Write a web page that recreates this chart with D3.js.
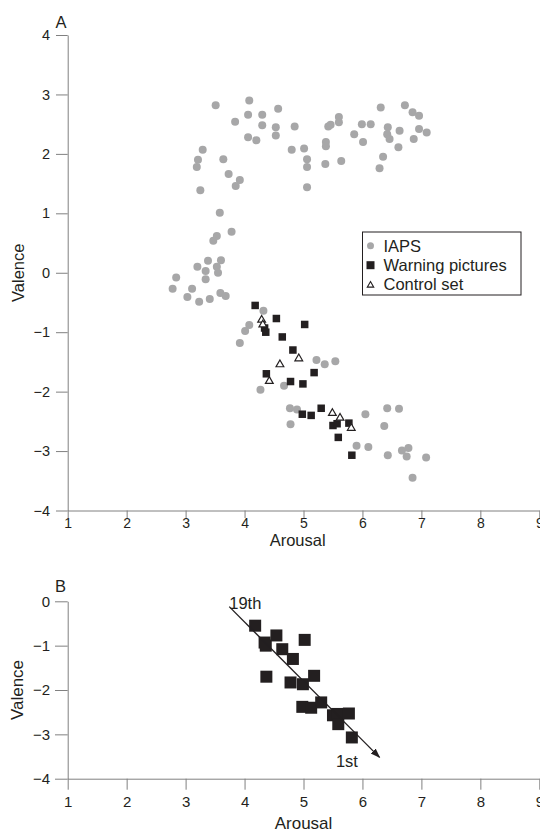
<!DOCTYPE html>
<html>
<head>
<meta charset="utf-8">
<script src="https://cdn.jsdelivr.net/npm/d3@7"></script>
<style>
  html, body { margin: 0; padding: 0; background: #fff; }
  svg { display: block; font-family: "Liberation Sans", Arial, sans-serif; }
</style>
</head>
<body>
<svg id="chart" width="540" height="832"></svg>
<script>
// Axis ticks
const arousalTicks = [1, 2, 3, 4, 5, 6, 7, 8, 9];
const valenceTicksA = [-4, -3, -2, -1, 0, 1, 2, 3, 4];
const valenceTicksB = [-4, -3, -2, -1, 0];

// IAPS normative ratings [arousal, valence]
const iaps = [
  [3.51, 2.82], [4.08, 2.90], [3.84, 2.54], [4.06, 2.66], [4.30, 2.66], [4.57, 2.76],
  [4.30, 2.48], [4.53, 2.45], [4.85, 2.46], [4.06, 2.28], [4.20, 2.23], [4.53, 2.31],
  [5.60, 2.62], [5.60, 2.53], [5.42, 2.46], [5.46, 2.49], [5.86, 2.33], [3.29, 2.07],
  [3.21, 1.90], [3.19, 1.78], [3.64, 1.91], [3.73, 1.66], [3.92, 1.56], [3.85, 1.46],
  [3.25, 1.39], [4.80, 2.07], [5.01, 2.09], [5.06, 1.91], [5.06, 1.78], [5.06, 1.44],
  [5.38, 2.20], [5.38, 2.13], [5.37, 1.83], [5.64, 1.88],
  [6.31, 2.78], [6.72, 2.82], [6.85, 2.70], [6.96, 2.64], [5.99, 2.50], [6.14, 2.50],
  [6.43, 2.45], [6.63, 2.39], [6.96, 2.42], [7.09, 2.36], [6.01, 2.20], [6.42, 2.33],
  [6.46, 2.25], [6.87, 2.25], [6.61, 2.11], [6.35, 1.95], [6.29, 1.76],
  [3.58, 1.01], [3.78, 0.69], [3.53, 0.62], [3.47, 0.54], [3.20, 0.10], [3.38, 0.20],
  [3.60, 0.21], [3.53, 0.10], [3.34, 0.03], [3.55, 0.00], [3.34, -0.11], [2.84, -0.08],
  [2.78, -0.27], [3.11, -0.27], [3.03, -0.41], [3.23, -0.49], [3.41, -0.44], [3.59, -0.34],
  [3.68, -0.39],
  [4.32, -0.64], [4.08, -0.88], [4.01, -0.98], [3.92, -1.18], [5.22, -1.47], [5.36, -1.54],
  [5.54, -1.49], [4.27, -1.97], [4.67, -1.90], [4.77, -2.28], [4.89, -2.30], [4.78, -2.55],
  [6.05, -2.38], [6.42, -2.28], [6.62, -2.29], [6.37, -2.58], [5.90, -2.91], [6.10, -2.93],
  [6.43, -3.07], [6.67, -2.99], [6.78, -2.95], [6.75, -3.09], [7.08, -3.11], [6.85, -3.45]
];

// Warning pictures [arousal, valence]
const warning = [
  [4.18, -0.55], [4.34, -0.93], [4.36, -1.00], [4.54, -0.77], [4.64, -1.08], [4.82, -1.30],
  [4.37, -1.70], [4.78, -1.83], [5.02, -0.87], [5.18, -1.68], [4.99, -1.87], [4.98, -2.38],
  [5.13, -2.40], [5.30, -2.28], [5.50, -2.57], [5.57, -2.54], [5.59, -2.77], [5.77, -2.53],
  [5.82, -3.07]
];

// Control set [arousal, valence]
const control = [
  [4.29, -0.78], [4.31, -0.86], [4.42, -1.81], [4.60, -1.53], [4.92, -1.43],
  [5.49, -2.35], [5.62, -2.43], [5.81, -2.60]
];

// Rank-order arrow for panel B, from the 19th to the 1st picture
const rankArrowFrom = [3.74, -0.12];
const rankArrowTo = [6.29, -3.52];
const rankLabels = [
  { text: "19th", at: [3.74, -0.12] },
  { text: "1st", at: [5.55, -3.68] }
];

const legendItems = ["IAPS", "Warning pictures", "Control set"];

const GREY = "#a7a7a8";
const INK = "#231f20";
const AXIS = "#808080";
const intFmt = d3.format("d");

const svg = d3.select("#chart");

svg.append("defs").append("marker")
  .attr("id", "arrowhead")
  .attr("viewBox", "0 0 10 10")
  .attr("refX", 9).attr("refY", 5)
  .attr("markerWidth", 10).attr("markerHeight", 10)
  .attr("markerUnits", "userSpaceOnUse")
  .attr("orient", "auto")
  .append("path")
  .attr("d", "M0,1.5 L10,5 L0,8.5 Z")
  .attr("fill", INK);

function styleAxis(g, size) {
  g.selectAll(".domain").attr("stroke", AXIS).attr("stroke-width", 1);
  g.selectAll(".tick line").attr("stroke", AXIS).attr("stroke-width", 1);
  g.selectAll(".tick text").attr("fill", INK)
    .attr("font-size", size)
    .attr("font-family", "Liberation Sans, Arial, sans-serif");
}

// ---------- Panel A ----------
const xA = d3.scaleLinear().domain([1, 9]).range([67.7, 539.3]);
const yA = d3.scaleLinear().domain([-4, 4]).range([510.5, 35]);

const gA = svg.append("g");

gA.append("g")
  .attr("transform", `translate(0,${yA(-4)})`)
  .call(d3.axisBottom(xA).tickValues(arousalTicks).tickFormat(intFmt)
    .tickSize(7.5).tickPadding(0).tickSizeOuter(0))
  .call(styleAxis, 14);

gA.append("g")
  .attr("transform", `translate(${xA(1)},0)`)
  .call(d3.axisLeft(yA).tickValues(valenceTicksA).tickFormat(intFmt)
    .tickSize(11.7).tickPadding(6).tickSizeOuter(0))
  .call(styleAxis, 14.5);

gA.append("text").text("A")
  .attr("x", 61).attr("y", 28).attr("text-anchor", "middle")
  .attr("font-size", 16.5).attr("fill", INK);

gA.append("text").text("Arousal")
  .attr("x", xA(4.9)).attr("y", 546).attr("text-anchor", "middle")
  .attr("font-size", 16.5).attr("fill", INK);

gA.append("text").text("Valence")
  .attr("transform", `translate(24,${yA(0)}) rotate(-90)`)
  .attr("text-anchor", "middle")
  .attr("font-size", 16.5).attr("fill", INK);

// IAPS points
gA.append("g").selectAll("circle").data(iaps).join("circle")
  .attr("cx", d => xA(d[0])).attr("cy", d => yA(d[1]))
  .attr("r", 4).attr("fill", GREY);

// Warning pictures
const sqA = 7.5;
gA.append("g").selectAll("rect").data(warning).join("rect")
  .attr("x", d => xA(d[0]) - sqA / 2).attr("y", d => yA(d[1]) - sqA / 2)
  .attr("width", sqA).attr("height", sqA).attr("fill", INK);

// Control set
const tri = d3.symbol().type(d3.symbolTriangle).size(26);
gA.append("g").selectAll("path").data(control).join("path")
  .attr("transform", d => `translate(${xA(d[0])},${yA(d[1]) + 0.8})`)
  .attr("d", tri)
  .attr("fill", "#fff").attr("stroke", INK).attr("stroke-width", 1.2);

// Legend
const legend = gA.append("g");
legend.append("rect")
  .attr("x", 362.5).attr("y", 232).attr("width", 158.5).attr("height", 63)
  .attr("fill", "#fff").attr("stroke", INK).attr("stroke-width", 1);
const legendY = [245.7, 265.2, 284.5];
legend.selectAll("text").data(legendItems).join("text")
  .text(d => d)
  .attr("x", 383.5).attr("y", (d, i) => legendY[i] + 5.8)
  .attr("font-size", 16.5).attr("fill", INK);
legend.append("circle").attr("cx", 370.5).attr("cy", legendY[0]).attr("r", 3.5).attr("fill", GREY);
legend.append("rect").attr("x", 366.5).attr("y", legendY[1] - 4).attr("width", 8).attr("height", 8).attr("fill", INK);
legend.append("path")
  .attr("transform", `translate(370.5,${legendY[2] + 0.8})`)
  .attr("d", d3.symbol().type(d3.symbolTriangle).size(18))
  .attr("fill", "#fff").attr("stroke", INK).attr("stroke-width", 1.1);

// ---------- Panel B ----------
const xB = d3.scaleLinear().domain([1, 9]).range([67.7, 539.3]);
const yB = d3.scaleLinear().domain([-4, 0]).range([778.7, 601.3]);

const gB = svg.append("g");

gB.append("g")
  .attr("transform", `translate(0,${yB(-4)})`)
  .call(d3.axisBottom(xB).tickValues(arousalTicks).tickFormat(intFmt)
    .tickSize(11).tickPadding(7).tickSizeOuter(0))
  .call(styleAxis, 15);

gB.append("g")
  .attr("transform", `translate(${xB(1)},0)`)
  .call(d3.axisLeft(yB).tickValues(valenceTicksB).tickFormat(intFmt)
    .tickSize(12.7).tickPadding(5).tickSizeOuter(0))
  .call(styleAxis, 15);

gB.append("text").text("B")
  .attr("x", 60.5).attr("y", 592).attr("text-anchor", "middle")
  .attr("font-size", 16.5).attr("fill", INK);

gB.append("text").text("Arousal")
  .attr("x", xB(5)).attr("y", 829).attr("text-anchor", "middle")
  .attr("font-size", 17).attr("fill", INK);

gB.append("text").text("Valence")
  .attr("transform", `translate(23,${yB(-2)}) rotate(-90)`)
  .attr("text-anchor", "middle")
  .attr("font-size", 17).attr("fill", INK);

// Warning pictures, enlarged
const sqB = 12;
gB.append("g").selectAll("rect").data(warning).join("rect")
  .attr("x", d => xB(d[0]) - sqB / 2).attr("y", d => yB(d[1]) - sqB / 2)
  .attr("width", sqB).attr("height", sqB).attr("fill", INK);

// Rank-order arrow
gB.append("line")
  .attr("x1", xB(rankArrowFrom[0])).attr("y1", yB(rankArrowFrom[1]))
  .attr("x2", xB(rankArrowTo[0])).attr("y2", yB(rankArrowTo[1]))
  .attr("stroke", INK).attr("stroke-width", 1.3)
  .attr("marker-end", "url(#arrowhead)");

gB.selectAll(".rank").data(rankLabels).join("text")
  .attr("class", "rank")
  .text(d => d.text)
  .attr("x", d => xB(d.at[0])).attr("y", d => yB(d.at[1]) + 2)
  .attr("font-size", 16.5).attr("fill", INK);
</script>
</body>
</html>
